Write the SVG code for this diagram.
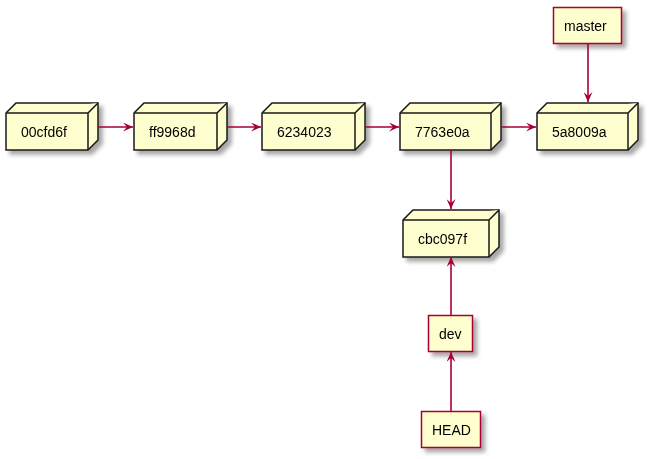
<svg xmlns="http://www.w3.org/2000/svg" width="660" height="459" viewBox="0 0 660 459">
<defs>
<filter id="sh" x="-20%" y="-20%" width="150%" height="160%">
<feGaussianBlur in="SourceAlpha" stdDeviation="2" result="b"/>
<feOffset in="b" dx="4" dy="4" result="o"/>
<feComponentTransfer in="o" result="c"><feFuncA type="linear" slope="0.35"/></feComponentTransfer>
<feMerge><feMergeNode in="c"/><feMergeNode in="SourceGraphic"/></feMerge>
</filter>
<marker id="ah" viewBox="0 0 10 9" refX="10" refY="4.5" markerWidth="10" markerHeight="9" markerUnits="userSpaceOnUse" orient="auto">
<path d="M0,0 L10,4.5 L0,9 L4,4.5 Z" fill="#A80036"/>
</marker>
</defs>
<style>
.n path{fill:#FEFECE;stroke:#181818;stroke-width:1.5;stroke-linejoin:miter}
.r rect{fill:#FEFECE;stroke:#A80036;stroke-width:1.5}
text{font-family:"Liberation Sans",Arial,sans-serif;font-size:14px;fill:#000}
.e line{stroke:#A80036;stroke-width:1.6;marker-end:url(#ah)}
</style>
<rect width="660" height="459" fill="#fff"/>
<g id="c00cfd6f" class="n" filter="url(#sh)">
<path d="M6,113 L16,103 L98,103 L98,140 L88,150 L6,150 Z"/>
<path d="M6,113 L88,113 L98,103 M88,113 L88,150" fill="none"/>
<text x="21" y="137">00cfd6f</text>
</g>
<g id="cff9968d" class="n" filter="url(#sh)">
<path d="M134,113 L144,103 L227,103 L227,140 L217,150 L134,150 Z"/>
<path d="M134,113 L217,113 L227,103 M217,113 L217,150" fill="none"/>
<text x="149" y="137">ff9968d</text>
</g>
<g id="c6234023" class="n" filter="url(#sh)">
<path d="M262,113 L272,103 L365,103 L365,140 L355,150 L262,150 Z"/>
<path d="M262,113 L355,113 L365,103 M355,113 L355,150" fill="none"/>
<text x="277" y="137">6234023</text>
</g>
<g id="c7763e0a" class="n" filter="url(#sh)">
<path d="M400,113 L410,103 L501,103 L501,140 L491,150 L400,150 Z"/>
<path d="M400,113 L491,113 L501,103 M491,113 L491,150" fill="none"/>
<text x="415" y="137">7763e0a</text>
</g>
<g id="c5a8009a" class="n" filter="url(#sh)">
<path d="M537,113 L547,103 L638,103 L638,140 L628,150 L537,150 Z"/>
<path d="M537,113 L628,113 L638,103 M628,113 L628,150" fill="none"/>
<text x="552" y="137">5a8009a</text>
</g>
<g id="ccbc097f" class="n" filter="url(#sh)">
<path d="M403,220 L413,210 L499,210 L499,247 L489,257 L403,257 Z"/>
<path d="M403,220 L489,220 L499,210 M489,220 L489,257" fill="none"/>
<text x="418" y="244">cbc097f</text>
</g>
<g id="master" class="r" filter="url(#sh)">
<rect x="553.5" y="7.5" width="68" height="36"/>
<text x="564" y="31">master</text>
</g>
<g id="dev" class="r" filter="url(#sh)">
<rect x="428.5" y="315.5" width="44" height="36"/>
<text x="439" y="339">dev</text>
</g>
<g id="HEAD" class="r" filter="url(#sh)">
<rect x="421.5" y="411.5" width="59" height="36"/>
<text x="432" y="435">HEAD</text>
</g>
<g id="edges" class="e">
<line x1="98" y1="127" x2="133" y2="127"/>
<line x1="227" y1="127" x2="261" y2="127"/>
<line x1="365" y1="127" x2="399" y2="127"/>
<line x1="501" y1="127" x2="536" y2="127"/>
<line x1="588" y1="44" x2="588" y2="102"/>
<line x1="451" y1="150" x2="451" y2="209"/>
<line x1="451" y1="315" x2="451" y2="257"/>
<line x1="451" y1="411" x2="451" y2="352"/>
</g>
</svg>
